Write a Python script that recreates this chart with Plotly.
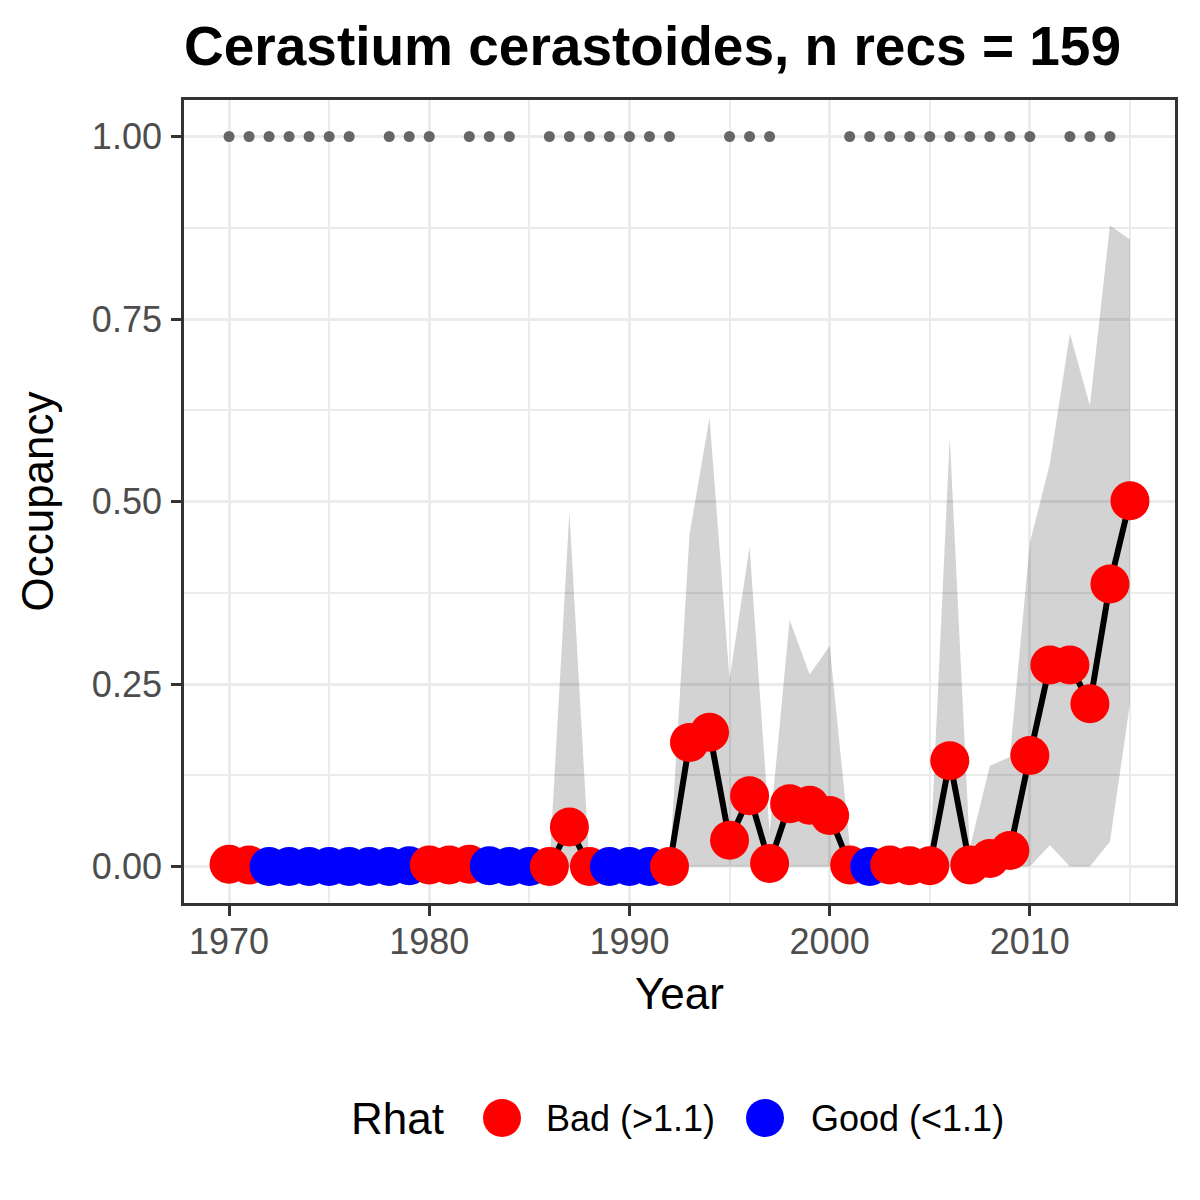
import plotly.graph_objects as go

# ---------------- data ----------------
years = list(range(1970, 2016))

occupancy = [
    0.003, 0.002, 0.000, 0.000, 0.000, 0.000, 0.000, 0.000, 0.000, 0.001,   # 1970-1979
    0.002, 0.002, 0.003, 0.001, 0.000, 0.000, 0.000, 0.054, 0.000, 0.000,   # 1980-1989
    0.000, 0.000, 0.000, 0.170, 0.184, 0.036, 0.097, 0.004, 0.086, 0.084,   # 1990-1999
    0.070, 0.002, 0.000, 0.002, 0.001, 0.001, 0.145, 0.002, 0.011, 0.022,   # 2000-2009
    0.152, 0.276, 0.276, 0.223, 0.387, 0.501,                               # 2010-2015
]

lower95 = [
    0.0, 0.0, 0.0, 0.0, 0.0, 0.0, 0.0, 0.0, 0.0, 0.0,
    0.0, 0.0, 0.0, 0.0, 0.0, 0.0, 0.0, 0.0, 0.0, 0.0,
    0.0, 0.0, 0.0, 0.0, 0.0, 0.0, 0.0, 0.0, 0.0, 0.0,
    0.0, 0.0, 0.0, 0.0, 0.0, 0.0, 0.0, 0.0, 0.0, 0.0,
    0.0, 0.029, 0.0, 0.0, 0.034, 0.223,
]

upper95 = [
    0.0, 0.0, 0.0, 0.0, 0.0, 0.0, 0.0, 0.0, 0.0, 0.0,
    0.0, 0.0, 0.0, 0.0, 0.0, 0.0, 0.0, 0.486, 0.0, 0.0,
    0.0, 0.0, 0.0, 0.455, 0.615, 0.256, 0.438, 0.047, 0.338, 0.263,
    0.302, 0.030, 0.0, 0.0, 0.0, 0.0, 0.588, 0.025, 0.138, 0.150,
    0.443, 0.552, 0.730, 0.631, 0.878, 0.859,
]

rhat = (
    ["Bad", "Bad"] + ["Good"] * 8            # 1970-1979
    + ["Bad"] * 3 + ["Good"] * 3             # 1980-1985
    + ["Bad"] * 3 + ["Good"] * 3             # 1986-1991
    + ["Bad"] * 10                           # 1992-2001
    + ["Good"]                               # 2002
    + ["Bad"] * 13                           # 2003-2015
)

record_years = (list(range(1970, 1977)) + list(range(1978, 1981)) + list(range(1982, 1985))
                + list(range(1986, 1993)) + list(range(1995, 1998)) + list(range(2001, 2011))
                + list(range(2012, 2015)))
record_flag = [1.0] * len(record_years)

legend_labels = {"Bad": "Bad (>1.1)", "Good": "Good (<1.1)"}
colors = {"Bad": "#FF0000", "Good": "#0000FF"}

# ---------------- figure ----------------
FONT = "Liberation Sans, Arial, sans-serif"
W, H = 1200, 1200
OFF = 8  # page body margin
# target panel in page pixels: x 184..1175, y 100..903
ML = 184 - OFF
MT = 100 - OFF
MR = W - (1175 - OFF)
MB = H - (903 - OFF)
PW, PH = W - ML - MR, H - MT - MB

fig = go.Figure()

fig.add_trace(go.Scatter(x=years, y=lower95, mode="lines", line=dict(width=0),
                         showlegend=False, hoverinfo="skip"))
fig.add_trace(go.Scatter(x=years, y=upper95, mode="lines", line=dict(width=0),
                         fill="tonexty", fillcolor="rgba(0,0,0,0.172)",
                         showlegend=False, hoverinfo="skip"))
fig.add_trace(go.Scatter(x=years, y=occupancy, mode="lines",
                         line=dict(color="black", width=6), showlegend=False))
fig.add_trace(go.Scatter(x=years, y=occupancy, mode="markers",
                         marker=dict(size=39, color=[colors[r] for r in rhat], line=dict(width=0)),
                         showlegend=False))
fig.add_trace(go.Scatter(x=record_years, y=record_flag, mode="markers",
                         marker=dict(size=11, color="#666666", line=dict(width=0)),
                         showlegend=False))

grid_major = "#EBEBEB"
fig.update_xaxes(
    range=[1967.75, 2017.25], tickmode="linear", tick0=1970, dtick=10,
    showgrid=True, gridcolor=grid_major, gridwidth=3,
    minor=dict(tick0=1975, dtick=10, showgrid=True, gridcolor=grid_major, gridwidth=1.6, ticklen=0),
    showline=True, linecolor="#333333", linewidth=2.7, mirror=True,
    ticks="outside", ticklen=10, tickwidth=3, tickcolor="#333333",
    tickfont=dict(family=FONT, size=36, color="#4D4D4D"),
    ticklabelstandoff=-5,
    zeroline=False,
    title=dict(text="Year", font=dict(family=FONT, size=44, color="black"), standoff=18),
)
fig.update_yaxes(
    range=[-0.05, 1.05], tickvals=[0, 0.25, 0.5, 0.75, 1.0],
    ticktext=["0.00", "0.25", "0.50", "0.75", "1.00"],
    showgrid=True, gridcolor=grid_major, gridwidth=3,
    minor=dict(tickvals=[0.125, 0.375, 0.625, 0.875], showgrid=True, gridcolor=grid_major,
               gridwidth=1.6, ticklen=0),
    showline=True, linecolor="#333333", linewidth=2.7, mirror=True,
    ticks="outside", ticklen=10, tickwidth=3, tickcolor="#333333",
    tickfont=dict(family=FONT, size=36, color="#4D4D4D"),
    ticklabelstandoff=2,
    zeroline=False,
    title=dict(text="Occupancy", font=dict(family=FONT, size=44, color="black"), standoff=25),
)

# manual legend (ggplot-style, bottom), positions given in page pixels
def px_to_paper(px, py):
    return (px - OFF - ML) / PW, (H - MB - (py - OFF)) / PH

annotations = []
shapes = []
leg_y = 1118
xp, yp = px_to_paper(349, leg_y)
annotations.append(dict(text="Rhat", x=xp, y=yp, xref="paper", yref="paper",
                        xanchor="left", yanchor="middle", showarrow=False,
                        font=dict(family=FONT, size=44, color="black")))
for key, cx, tx in [("Bad", 502, 544), ("Good", 765, 809)]:
    xc, yc = px_to_paper(cx, leg_y)
    shapes.append(dict(type="circle", xref="paper", yref="paper",
                       xsizemode="pixel", ysizemode="pixel",
                       xanchor=xc, yanchor=yc, x0=-19, x1=19, y0=-19, y1=19,
                       fillcolor=colors[key], line=dict(width=0)))
    xt, yt = px_to_paper(tx, leg_y)
    annotations.append(dict(text=legend_labels[key], x=xt, y=yt, xref="paper", yref="paper",
                            xanchor="left", yanchor="middle", showarrow=False,
                            font=dict(family=FONT, size=36, color="black")))

fig.update_layout(
    width=W, height=H,
    margin=dict(l=ML, r=MR, t=MT, b=MB),
    paper_bgcolor="white", plot_bgcolor="white",
    showlegend=False,
    title=dict(text="<b>Cerastium cerastoides, n recs = 159</b>",
               font=dict(family=FONT, size=55, color="black"),
               x=ML / W, xanchor="left", xref="container",
               y=1 - (46 - OFF) / H, yanchor="middle", yref="container"),
    annotations=annotations,
    shapes=shapes,
)

fig.write_html("out.html")
